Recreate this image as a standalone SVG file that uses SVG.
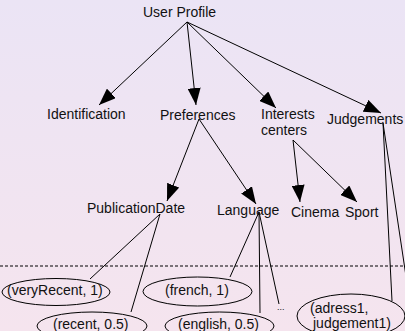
<svg xmlns="http://www.w3.org/2000/svg" width="405" height="331" viewBox="0 0 405 331">
  <defs>
    <linearGradient id="bg" x1="0" y1="0" x2="0" y2="1">
      <stop offset="0" stop-color="#EBE4F5"/>
      <stop offset="1" stop-color="#F5E4EE"/>
    </linearGradient>
    <marker id="arrow" markerUnits="userSpaceOnUse" markerWidth="17" markerHeight="13" refX="17" refY="6.5" orient="auto">
      <path d="M0,0 L17,6.5 L0,13 z" fill="#000"/>
    </marker>
    <style>
      text { font-family: "Liberation Sans", Arial, sans-serif; font-size: 14px; fill: #111; }
      .edge { stroke: #000; stroke-width: 1; fill: none; }
      .arr { marker-end: url(#arrow); }
      .val { stroke: #000; stroke-width: 1; fill: none; }
      .sep { stroke: #000; stroke-width: 1; stroke-dasharray: 3 2; }
    </style>
  </defs>

  <rect x="0" y="0" width="405" height="331" fill="url(#bg)"/>

  <!-- boundary between profile schema and stored values -->
  <line class="sep" x1="0" y1="266" x2="405" y2="266"/>

  <g id="connectors">
    <line class="edge arr" x1="187" y1="22" x2="99" y2="105"/>
    <line class="edge arr" x1="187" y1="22" x2="196" y2="105"/>
    <line class="edge arr" x1="187" y1="22" x2="276" y2="108"/>
    <line class="edge arr" x1="187" y1="22" x2="381" y2="113"/>
    <line class="edge arr" x1="199" y1="119" x2="167" y2="201"/>
    <line class="edge arr" x1="199" y1="119" x2="256" y2="204"/>
    <line class="edge arr" x1="293" y1="140" x2="300" y2="202"/>
    <line class="edge arr" x1="293" y1="140" x2="357" y2="202"/>
    <line class="edge" x1="160" y1="214" x2="90" y2="279"/>
    <line class="edge" x1="160" y1="214" x2="131" y2="312"/>
    <line class="edge" x1="259" y1="212" x2="230" y2="277"/>
    <line class="edge" x1="259" y1="212" x2="260" y2="313"/>
    <line class="edge" x1="259" y1="212" x2="279" y2="304"/>
    <line class="edge" x1="383" y1="123" x2="392" y2="301"/>
    <line class="edge" x1="383" y1="123" x2="407" y2="283"/>
  </g>

  <g id="user-profile"><text x="143" y="17">User Profile</text></g>
  <g id="identification"><text x="47" y="119">Identification</text></g>
  <g id="preferences"><text x="160" y="120">Preferences</text></g>
  <g id="interests-centers">
    <text x="261" y="119">Interests</text>
    <text x="261" y="135">centers</text>
  </g>
  <g id="judgements"><text x="327" y="124">Judgements</text></g>
  <g id="publication-date"><text x="87" y="213">PublicationDate</text></g>
  <g id="language"><text x="217" y="215">Language</text></g>
  <g id="cinema"><text x="291" y="217">Cinema</text></g>
  <g id="sport"><text x="345" y="217">Sport</text></g>

  <g id="very-recent">
    <ellipse class="val" cx="56" cy="292" rx="54" ry="13.5"/>
    <text x="7" y="295">(veryRecent, 1)</text>
  </g>
  <g id="recent">
    <ellipse class="val" cx="92" cy="326" rx="55" ry="14"/>
    <text x="53" y="329">(recent, 0.5)</text>
  </g>
  <g id="french">
    <ellipse class="val" cx="197.5" cy="291.5" rx="54.5" ry="14.5"/>
    <text x="165" y="295">(french, 1)</text>
  </g>
  <g id="english">
    <ellipse class="val" cx="219.5" cy="326" rx="54.5" ry="14"/>
    <text x="178" y="329">(english, 0.5)</text>
  </g>
  <g id="more-languages">
    <text x="277" y="310" style="font-size:9px">...</text>
  </g>
  <g id="adress-judgement">
    <ellipse class="val" cx="351" cy="316" rx="54" ry="22"/>
    <text x="310" y="313">(adress1,</text>
    <text x="313" y="328">judgement1)</text>
  </g>
</svg>
